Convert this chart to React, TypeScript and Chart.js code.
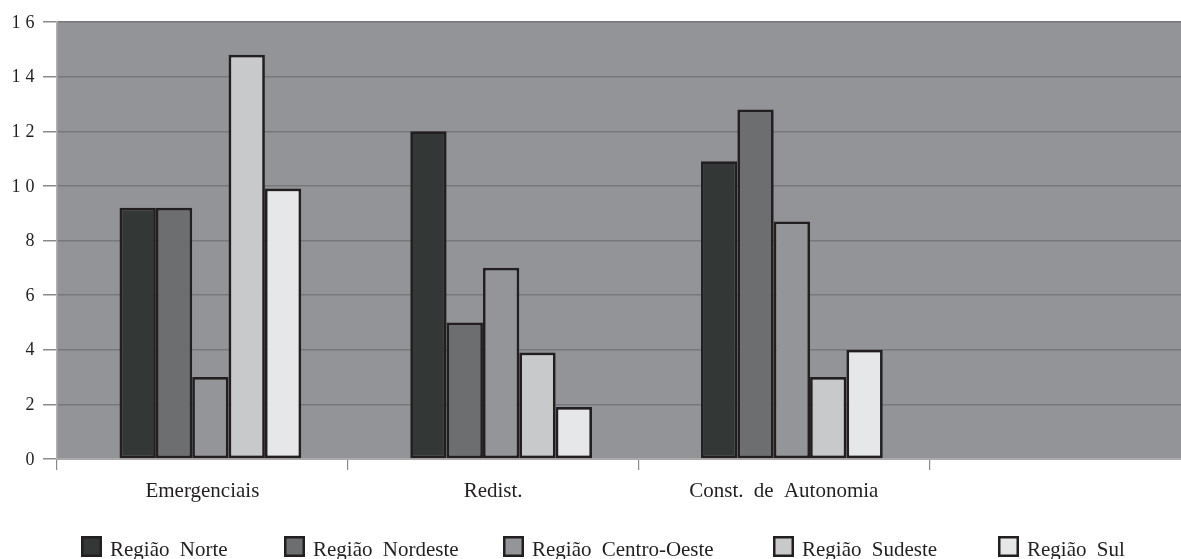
import React, { useEffect, useRef } from "react";
import { Chart, registerables } from "chart.js";

Chart.register(...registerables);

const categories = ["Emergenciais", "Redist.", "Const. de Autonomia", ""];
const seriesNames = [
  "Região Norte",
  "Região Nordeste",
  "Região Centro-Oeste",
  "Região Sudeste",
  "Região Sul",
];
const norte = [9.2, 12.0, 10.9, null];
const nordeste = [9.2, 5.0, 12.8, null];
const centroOeste = [3.0, 7.0, 8.7, null];
const sudeste = [14.8, 3.9, 3.0, null];
const sul = [9.9, 1.9, 4.0, null];
const seriesColors = ["#333735", "#6d6e70", "#939598", "#c8c9cb", "#e6e7e8"];
const yTicks = [0, 2, 4, 6, 8, 10, 12, 14, 16];

const legendX = [81, 284, 503, 773, 998];
const FONT = "'Liberation Serif', 'Times New Roman', serif";
const INK = "#231f20";

export default function App() {
  const ref = useRef<HTMLCanvasElement | null>(null);

  useEffect(() => {
    const canvas = ref.current;
    if (!canvas) return;
    const seriesData = [norte, nordeste, centroOeste, sudeste, sul];

    const bgPlugin = {
      id: "bgPlugin",
      beforeDraw(chart: any) {
        const { ctx, chartArea } = chart;
        ctx.save();
        ctx.fillStyle = "#939497";
        ctx.fillRect(
          chartArea.left,
          chartArea.top,
          chartArea.right - chartArea.left,
          chartArea.bottom - chartArea.top
        );
        ctx.restore();
        (ctx as any).wordSpacing = "5px";
      },
      beforeDatasetsDraw(chart: any) {
        chart.ctx.save();
        chart.ctx.translate(8, 0);
      },
      afterDatasetsDraw(chart: any) {
        chart.ctx.restore();
      },
      afterDraw(chart: any) {
        const ctx = chart.ctx;
        const ys = chart.scales.y;
        ctx.save();
        ctx.font = `18px ${FONT}`;
        ctx.fillStyle = INK;
        (ctx as any).letterSpacing = "5px";
        ctx.textAlign = "right";
        ctx.textBaseline = "middle";
        yTicks.forEach((v) => {
          const py = ys.getPixelForValue(v);
          ctx.fillText(String(v), 34.5 + 5, py + 1);
        });
        ctx.restore();
        ctx.save();
        (ctx as any).letterSpacing = "0px";
        (ctx as any).wordSpacing = "5px";
        ctx.font = `21px ${FONT}`;
        ctx.textAlign = "left";
        ctx.textBaseline = "alphabetic";
        chart.data.datasets.forEach((ds: any, i: number) => {
          const x = legendX[i];
          const top = 536;
          const s = 21;
          ctx.fillStyle = ds.backgroundColor;
          ctx.fillRect(x, top, s, s);
          ctx.strokeStyle = INK;
          ctx.lineWidth = 2.5;
          ctx.strokeRect(x + 1.25, top + 1.25, s - 2.5, s - 2.5);
          ctx.fillStyle = INK;
          ctx.fillText(ds.label, x + 29, 556);
        });
        ctx.restore();
      },
    };

    const chart = new Chart(canvas, {
      type: "bar",
      data: {
        labels: categories,
        datasets: seriesNames.map((name, i) => ({
          label: name,
          data: seriesData[i] as any,
          backgroundColor: seriesColors[i],
          borderColor: INK,
          borderWidth: 2.7,
          borderSkipped: false,
          barPercentage: 1,
          categoryPercentage: 0.625,
        })),
      },
      options: {
        animation: false,
        responsive: false,
        devicePixelRatio: 1,
        layout: { padding: { top: 22, left: 0, right: 0, bottom: 0 } },
        plugins: {
          legend: { display: false },
          tooltip: { enabled: false },
        },
        scales: {
          x: {
            grid: {
              offset: true,
              drawOnChartArea: false,
              drawTicks: true,
              tickLength: 11,
              color: "#8a8a8a",
              lineWidth: 1.2,
            },
            border: { display: true, color: "#aaaaaa", width: 2 },
            ticks: {
              font: { family: FONT, size: 21 },
              color: INK,
              padding: 9,
              maxRotation: 0,
              autoSkip: false,
            },
            afterFit(scale: any) {
              scale.height = 100;
            },
          },
          y: {
            min: 0,
            max: 16,
            ticks: { stepSize: 2, display: false },
            grid: {
              color: "#77787b",
              lineWidth: 1.5,
              drawTicks: true,
              tickLength: 14,
              tickColor: "#8a8a8a",
            },
            border: { display: true, color: "#b0b0b0", width: 1.5 },
            afterFit(scale: any) {
              scale.width = 57;
            },
          },
        },
      },
      plugins: [bgPlugin],
    });
    return () => chart.destroy();
  }, []);

  return (
    <div
      style={{
        position: "fixed",
        left: 0,
        top: 0,
        width: 1181,
        height: 559,
        overflow: "hidden",
        background: "#ffffff",
      }}
    >
      <canvas ref={ref} width={1220} height={559} style={{ display: "block" }} />
    </div>
  );
}
